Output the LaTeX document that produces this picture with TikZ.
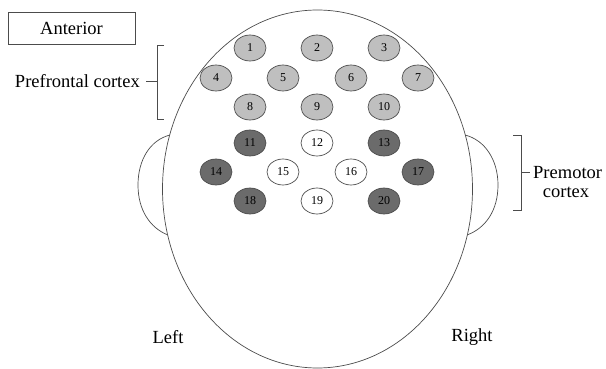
\documentclass[tikz,border=0pt]{standalone}
\usepackage{fontspec}
\setmainfont{Liberation Serif}
\begin{document}
\begin{tikzpicture}[x=1pt,y=-1pt,
  line/.style={draw=black!70,line width=0.7pt},
  elec/.style={ellipse,draw=black!70,line width=0.7pt,minimum width=32pt,minimum height=26pt,inner sep=0pt,font=\fontsize{12}{12}\selectfont},
  light/.style={elec,fill=black!25},
  dark/.style={elec,fill=black!58},
  white/.style={elec,fill=white},
  lbl/.style={font=\fontsize{18.5}{20}\selectfont,inner sep=0pt}]
\usetikzlibrary{shapes.geometric}
\useasboundingbox (0,0) rectangle (606,369);
% ears
\draw[line] (170,135) .. controls (150,140) and (138,160) .. (138,185) .. controls (138,210) and (150,228) .. (168,235);
\draw[line] (465,135) .. controls (485,140) and (498,160) .. (498,185) .. controls (498,210) and (486,228) .. (467,235);
% head
\draw[line,fill=white] (317.5,189) ellipse [x radius=155, y radius=179];
% anterior box
\node[draw=black!70,line width=0.7pt,minimum width=127pt,minimum height=32pt,lbl] (ant) at (71.5,28) {Anterior};
% prefrontal
\node[lbl,anchor=east] (pf) at (140,81) {Prefrontal cortex};
\draw[line,line width=0.5pt] (164,45) -- (157,45) -- (157,119) -- (164,119);
\draw[line,line width=0.5pt] (157,81) -- (146,81);
% premotor
\draw[line,line width=0.5pt] (513,135) -- (521,135) -- (521,210) -- (513,210);
\draw[line,line width=0.5pt] (521,172) -- (530,172);
\node[lbl,anchor=west] (pm) at (533,173) {Premotor};
\node[lbl] (pm2) at (566,192) {cortex};
% left/right
\node[lbl] (left) at (168,337) {Left};
\node[lbl] (right) at (472,337) {Right};
% electrodes
\node[light] (e1) at (250,48) {1};
\node[light] (e2) at (317,48) {2};
\node[light] (e3) at (384,48) {3};
\node[light] (e4) at (216,78) {4};
\node[light] (e5) at (283,78) {5};
\node[light] (e6) at (351,78) {6};
\node[light] (e7) at (418,78) {7};
\node[light] (e8) at (250,107) {8};
\node[light] (e9) at (317,107) {9};
\node[light] (e10) at (384,107) {10};
\node[dark] (e11) at (250,143) {11};
\node[white] (e12) at (317,143) {12};
\node[dark] (e13) at (384,143) {13};
\node[dark] (e14) at (216,172) {14};
\node[white] (e15) at (283,172) {15};
\node[white] (e16) at (351,172) {16};
\node[dark] (e17) at (418,172) {17};
\node[dark] (e18) at (250,201) {18};
\node[white] (e19) at (317,201) {19};
\node[dark] (e20) at (384,201) {20};
\end{tikzpicture}
\end{document}
